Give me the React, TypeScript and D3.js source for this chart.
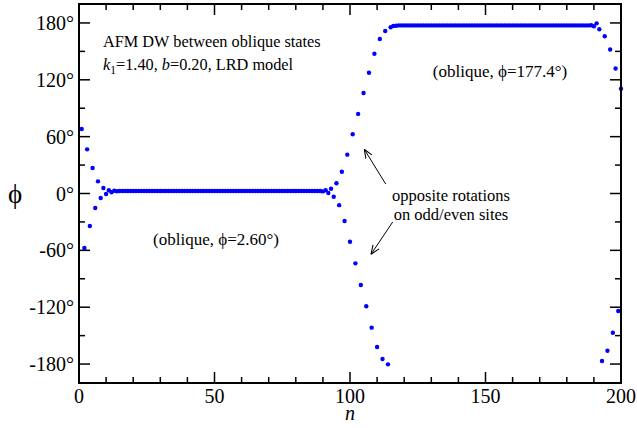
import React from "react";
import * as d3 from "d3";

// site index n = 1..200
const phiStart = [68, -57.5, 46.6, -34.3, 26.9, -15.3, 12.8, -4.7, 5.8, -0.5, 3.4, 1.3, 2.9, 2.3];
const phiLeftPlateau = [
  2.6, 2.6, 2.6, 2.6, 2.6, 2.6, 2.6, 2.6, 2.6, 2.6,
  2.6, 2.6, 2.6, 2.6, 2.6, 2.6, 2.6, 2.6, 2.6, 2.6,
  2.6, 2.6, 2.6, 2.6, 2.6, 2.6, 2.6, 2.6, 2.6, 2.6,
  2.6, 2.6, 2.6, 2.6, 2.6, 2.6, 2.6, 2.6, 2.6, 2.6,
  2.6, 2.6, 2.6, 2.6, 2.6, 2.6, 2.6, 2.6, 2.6, 2.6,
  2.6, 2.6, 2.6, 2.6, 2.6, 2.6, 2.6, 2.6, 2.6, 2.6,
  2.6, 2.6, 2.6, 2.6, 2.6, 2.6, 2.6, 2.6, 2.6, 2.6,
  2.6, 2.6, 2.6, 2.6, 2.6,
];
const phiWall = [
  2.2, 3.4, 0.6, 5.0, -3.4, 10.8, -12.3, 23, -29, 41,
  -51, 62.5, -73.7, 84, -96.6, 106, -119, 127.5, -141.6, 147.5,
  -162, 163, -174.7, 171.5, -180.3, 175.4, 176.8, 177.0,
];
const phiRightPlateau = [
  177.4, 177.4, 177.4, 177.4, 177.4, 177.4, 177.4, 177.4, 177.4, 177.4,
  177.4, 177.4, 177.4, 177.4, 177.4, 177.4, 177.4, 177.4, 177.4, 177.4,
  177.4, 177.4, 177.4, 177.4, 177.4, 177.4, 177.4, 177.4, 177.4, 177.4,
  177.4, 177.4, 177.4, 177.4, 177.4, 177.4, 177.4, 177.4, 177.4, 177.4,
  177.4, 177.4, 177.4, 177.4, 177.4, 177.4, 177.4, 177.4, 177.4, 177.4,
  177.4, 177.4, 177.4, 177.4, 177.4, 177.4, 177.4, 177.4, 177.4, 177.4,
  177.4, 177.4, 177.4, 177.4, 177.4, 177.4, 177.4, 177.4, 177.4, 177.4,
  177.4,
];
const phiEnd = [177.6, 176.5, 179.6, 173.3, -176.8, 166, -166, 152, -147, 132, -124, 110.6];

const xMajorTicks = [0, 50, 100, 150, 200];
const xMinorTicks = [10, 20, 30, 40, 60, 70, 80, 90, 110, 120, 130, 140, 160, 170, 180, 190];
const yMajorTicks = [-180, -120, -60, 0, 60, 120, 180];
const yMinorTicks = [-150, -90, -30, 30, 90, 150];

const phiAll = [...phiStart, ...phiLeftPlateau, ...phiWall, ...phiRightPlateau, ...phiEnd];

const W = 637;
const H = 428;
const L = 79;
const R = 621;
const T = 4;
const B = 383;
const FONT = "'Liberation Serif', 'DejaVu Serif', serif";

export default function App() {
  const x = d3.scaleLinear().domain([0, 200]).range([L, R]);
  const y = d3.scaleLinear().domain([-200, 200]).range([B, T]);
  const pts = phiAll.map((v, i) => ({ n: i + 1, v }));
  const major = 11;
  const minor = 6;

  return (
    <svg width={W} height={H} style={{ position: "absolute", left: 0, top: 0, background: "#fff" }} fontFamily={FONT}>
      <rect x={0} y={0} width={W} height={H} fill="#fff" />
      {/* points */}
      {pts.map((p) => (
        <circle key={p.n} cx={x(p.n)} cy={y(p.v)} r={2.2} fill="#0000ff" />
      ))}
      {/* ticks */}
      <g stroke="#000" strokeWidth={1.5}>
        {xMajorTicks.map((t) => (
          <g key={"xM" + t}>
            <line x1={x(t)} x2={x(t)} y1={B} y2={B - major} />
            <line x1={x(t)} x2={x(t)} y1={T} y2={T + major} />
          </g>
        ))}
        {xMinorTicks.map((t) => (
          <g key={"xm" + t}>
            <line x1={x(t)} x2={x(t)} y1={B} y2={B - minor} />
            <line x1={x(t)} x2={x(t)} y1={T} y2={T + minor} />
          </g>
        ))}
        {yMajorTicks.map((t) => (
          <g key={"yM" + t}>
            <line x1={L} x2={L + major} y1={y(t)} y2={y(t)} />
            <line x1={R} x2={R - major} y1={y(t)} y2={y(t)} />
          </g>
        ))}
        {yMinorTicks.map((t) => (
          <g key={"ym" + t}>
            <line x1={L} x2={L + minor} y1={y(t)} y2={y(t)} />
            <line x1={R} x2={R - minor} y1={y(t)} y2={y(t)} />
          </g>
        ))}
      </g>
      <rect x={L} y={T} width={R - L} height={B - T} fill="none" stroke="#000" strokeWidth={2} />
      {/* tick labels */}
      {xMajorTicks.map((t) => (
        <text key={"xl" + t} x={x(t)} y={403} fontSize={20} textAnchor="middle">
          {t}
        </text>
      ))}
      {yMajorTicks.map((t) => (
        <text key={"yl" + t} x={74} y={y(t) + 7} fontSize={20} textAnchor="end">
          {t + "°"}
        </text>
      ))}
      {/* axis titles */}
      <text x={15} y={203} fontSize={27} textAnchor="middle">ϕ</text>
      <text x={350} y={420} fontSize={20} fontStyle="italic" textAnchor="middle">n</text>
      {/* annotations */}
      <text x={103} y={47} fontSize={16.3}>AFM DW between oblique states</text>
      <text x={103} y={70} fontSize={16.3}>
        <tspan fontStyle="italic">k</tspan>
        <tspan fontSize={11.5} dy={4}>1</tspan>
        <tspan dy={-4}>=1.40, </tspan>
        <tspan fontStyle="italic">b</tspan>
        <tspan>=0.20, LRD model</tspan>
      </text>
      <text x={216} y={245} fontSize={17} textAnchor="middle">(oblique, ϕ=2.60°)</text>
      <text x={500} y={77} fontSize={17} textAnchor="middle">(oblique, ϕ=177.4°)</text>
      <text x={451} y={201} fontSize={16.5} textAnchor="middle">opposite rotations</text>
      <text x={451} y={220} fontSize={16.5} textAnchor="middle">on odd/even sites</text>
      {/* arrows */}
      <defs>
        <marker id="ah" viewBox="0 0 10 10" refX={10} refY={5} markerWidth={9} markerHeight={9} orient="auto" markerUnits="userSpaceOnUse">
          <path d="M0,1 L10,5 L0,9" fill="none" stroke="#000" strokeWidth={1.2} />
        </marker>
      </defs>
      <line x1={385.7} y1={184} x2={364.3} y2={149.3} stroke="#000" strokeWidth={1} markerEnd="url(#ah)" />
      <line x1={392.7} y1={222} x2={371} y2={254.3} stroke="#000" strokeWidth={1} markerEnd="url(#ah)" />
    </svg>
  );
}
